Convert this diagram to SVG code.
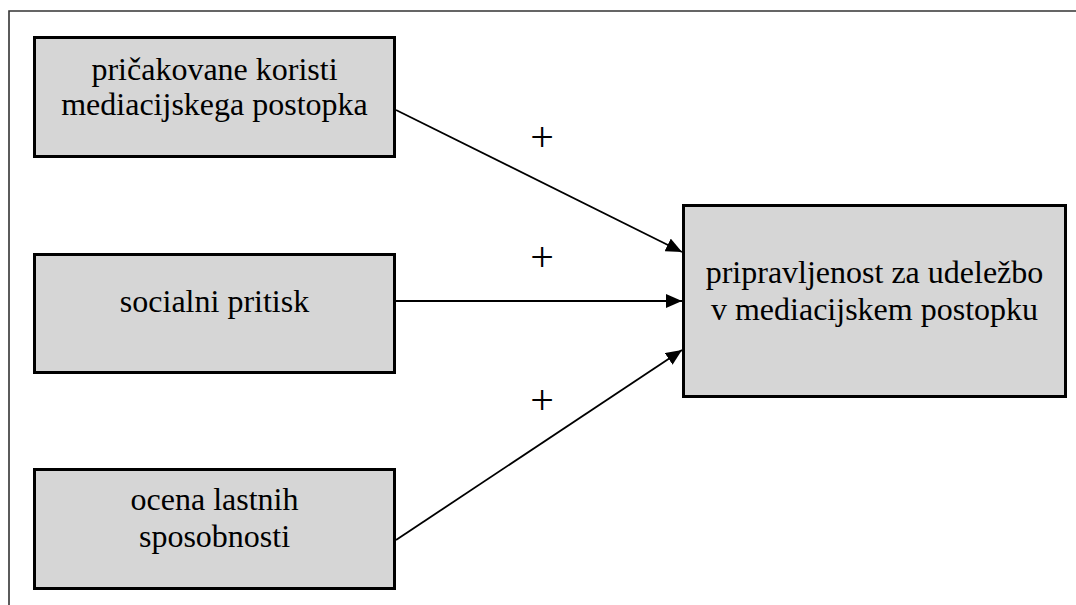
<svg xmlns="http://www.w3.org/2000/svg" width="1076" height="605" viewBox="0 0 1076 605">
<style>
.box{fill:#d6d6d6;stroke:#000;stroke-width:3}
.lbl{font-family:"Liberation Serif","Times New Roman",serif;font-size:32px;fill:#000;text-anchor:middle}
.plus{font-family:"Liberation Serif","Times New Roman",serif;font-size:42px;fill:#000;text-anchor:middle}
.conn{stroke:#000;stroke-width:1.8;fill:none;marker-end:url(#arr)}
.frame{stroke:#333;stroke-width:1.6;fill:none}
</style>
<defs>
<marker id="arr" markerUnits="userSpaceOnUse" markerWidth="18" markerHeight="14" refX="16" refY="7" orient="auto">
<path d="M0,0 L16,7 L0,14 Z" fill="#000"/>
</marker>
</defs>
<path class="frame" d="M9,605 L9,11 L1076,11"/>
<g id="n1">
<rect class="box" x="34.5" y="37.5" width="360" height="119"/>
<text class="lbl" x="214.5" y="80">pričakovane koristi</text>
<text class="lbl" x="214.5" y="115">mediacijskega postopka</text>
</g>
<g id="n2">
<rect class="box" x="34.5" y="254.5" width="360" height="118"/>
<text class="lbl" x="214.5" y="312">socialni pritisk</text>
</g>
<g id="n3">
<rect class="box" x="34.5" y="469.5" width="360" height="119"/>
<text class="lbl" x="214.5" y="510">ocena lastnih</text>
<text class="lbl" x="214.5" y="547">sposobnosti</text>
</g>
<g id="n4">
<rect class="box" x="683.5" y="205.5" width="382" height="191"/>
<text class="lbl" x="874.5" y="283">pripravljenost za udeležbo</text>
<text class="lbl" x="874.5" y="320">v mediacijskem postopku</text>
</g>
<g id="connectors">
<line class="conn" x1="396" y1="110" x2="682" y2="252"/>
<line class="conn" x1="396" y1="301" x2="682" y2="301"/>
<line class="conn" x1="396" y1="540" x2="682" y2="350"/>
<text class="plus" x="542" y="151">+</text>
<text class="plus" x="542" y="271">+</text>
<text class="plus" x="542" y="414">+</text>
</g>
</svg>
